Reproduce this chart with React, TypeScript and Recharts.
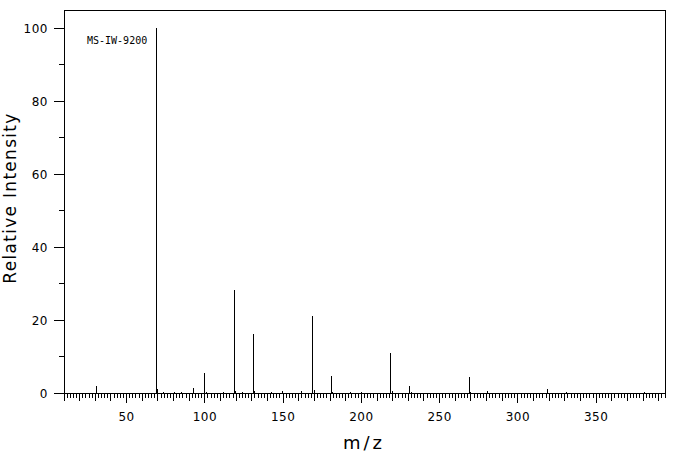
import { BarChart, Bar, XAxis, YAxis, ReferenceArea } from "recharts";

// m/z of each peak and its relative intensity (%)
const mz = [
  31, 69, 70, 74, 81, 85, 93, 100, 101, 112, 119, 120, 124, 131, 132, 143, 150,
  162, 169, 170, 181, 182, 193, 200, 219, 220, 231, 232, 269, 270, 281, 319, 331,
  381,
];
const intensity = [
  1.9, 100, 1.0, 0.3, 0.3, 0.3, 1.4, 5.5, 0.3, 0.3, 28.2, 0.6, 0.3, 16.2, 0.5,
  0.3, 0.5, 0.5, 21.1, 0.7, 4.7, 0.3, 0.3, 0.3, 11.0, 0.5, 1.9, 0.3, 4.4, 0.3,
  0.5, 1.1, 0.4, 0.3,
];

const xTicks: number[] = [];
for (let v = 10; v <= 394; v += 2) xTicks.push(v);
const yTicks = [0, 10, 20, 30, 40, 50, 60, 70, 80, 90, 100];

const data = mz.map((m, i) => ({ mz: m, intensity: intensity[i] }));

const font = "'DejaVu Sans', sans-serif";

function XTick(props: any) {
  const { x, y, payload } = props;
  const v = payload.value;
  const len = v % 50 === 0 ? 10 : v % 10 === 0 ? 8 : 5;
  return (
    <g>
      <line x1={x} x2={x} y1={y} y2={y + len} stroke="#000" />
      {v % 50 === 0 && (
        <text
          x={x}
          y={y + 28}
          textAnchor="middle"
          fontSize={12}
          letterSpacing={0.5}
          fontFamily={font}
          fill="#000"
        >
          {v}
        </text>
      )}
    </g>
  );
}

function YTick(props: any) {
  const { x, y, payload } = props;
  const v = payload.value;
  const major = v % 20 === 0;
  return (
    <g>
      <line x1={x - (major ? 10 : 5)} x2={x} y1={y} y2={y} stroke="#000" />
      {major && (
        <text
          x={x - 16}
          y={y + 4.5}
          textAnchor="end"
          fontSize={12}
          letterSpacing={0.5}
          fontFamily={font}
          fill="#000"
        >
          {v}
        </text>
      )}
    </g>
  );
}

function Stick(props: any) {
  const { x, y, width, height } = props;
  const cx = Math.floor(x + width / 2);
  return <rect x={cx} y={y} width={1} height={height} fill="#000" />;
}

export default function App() {
  return (
    <div style={{ position: "absolute", left: 0, top: 0, width: 676, height: 455, background: "#fff" }}>
      <style>{"svg line, svg rect, svg path { shape-rendering: crispEdges; }"}</style>
      <BarChart
        width={676}
        height={455}
        data={data}
        margin={{ top: 10, right: 11, bottom: 0, left: 0 }}
      >
        <XAxis
          type="number"
          dataKey="mz"
          domain={[10, 394]}
          allowDataOverflow
          ticks={xTicks}
          interval={0}
          height={62}
          axisLine={false}
          tickLine={false}
          tickSize={0}
          tickMargin={0}
          tick={<XTick />}
        />
        <YAxis
          type="number"
          domain={[0, 105]}
          allowDataOverflow
          ticks={yTicks}
          interval={0}
          width={64}
          axisLine={false}
          tickLine={false}
          tickSize={0}
          tickMargin={0}
          tick={<YTick />}
        />
        <ReferenceArea
          x1={10}
          x2={394}
          y1={0}
          y2={105}
          fill="none"
          fillOpacity={0}
          stroke="#000"
          strokeOpacity={1}
          ifOverflow="visible"
        />
        <Bar dataKey="intensity" barSize={1} shape={<Stick />} isAnimationActive={false} />
        <text x={87} y={44} fontSize={10} fontFamily="'DejaVu Sans Mono', monospace" fill="#000">
          MS-IW-9200
        </text>
        <text
          transform="translate(16,198) rotate(-90)"
          textAnchor="middle"
          fontSize={17}
          letterSpacing={1.3}
          fontFamily={font}
          fill="#000"
        >
          Relative Intensity
        </text>
        <text
          x={364}
          y={449}
          textAnchor="middle"
          fontSize={18}
          letterSpacing={3}
          fontFamily={font}
          fill="#000"
        >
          m/z
        </text>
      </BarChart>
    </div>
  );
}
